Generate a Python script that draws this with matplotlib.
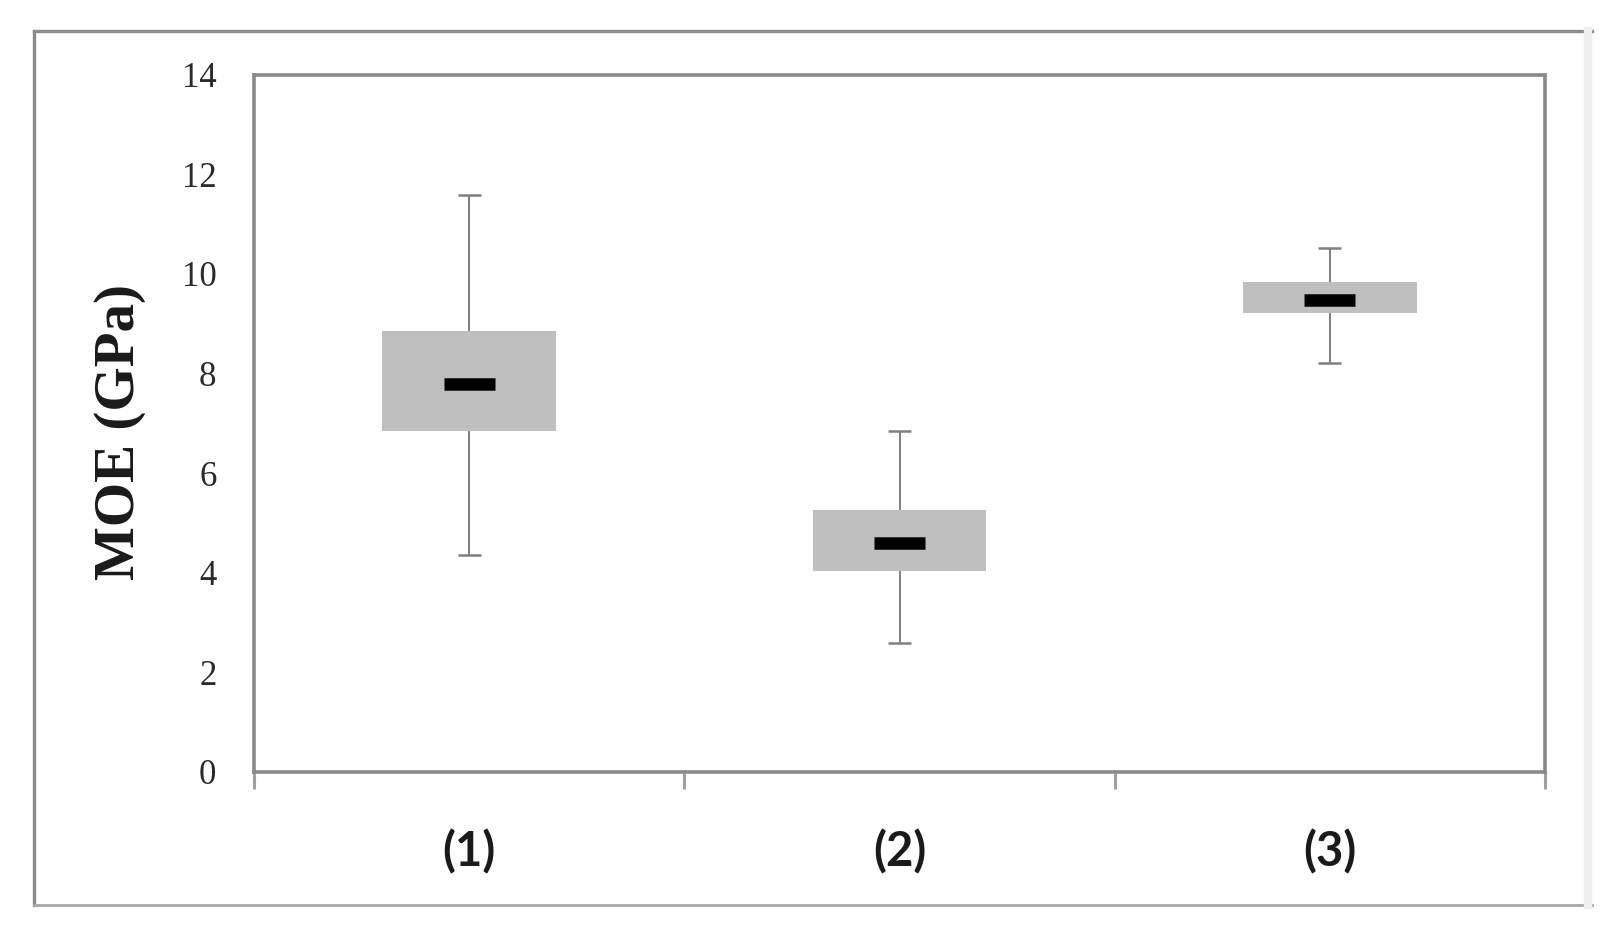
import numpy as np
import matplotlib.pyplot as plt
from matplotlib.lines import Line2D

# values (GPa)
groups = ["(1)", "(2)", "(3)"]
q1 = [6.85, 4.03, 9.22]
q3 = [8.85, 5.26, 9.83]
medians = [7.79, 4.59, 9.48]
whisker_low = [4.36, 2.58, 8.21]
whisker_high = [11.59, 6.85, 10.51]

yticks = [0, 2, 4, 6, 8, 10, 12, 14]

W, H = 1623, 939
fig = plt.figure(figsize=(W / 100, H / 100), dpi=100)

# outer chart frame (left/top dark, bottom lighter, right faint)
frame_l, frame_r, frame_t, frame_b = 34 / W, 1592 / W, 1 - 31 / H, 1 - 905 / H
fig.add_artist(Line2D([frame_l, frame_l], [frame_b, frame_t], color="#8c8c8c", lw=2.4))
fig.add_artist(Line2D([frame_l, frame_r], [frame_t, frame_t], color="#8c8c8c", lw=2.4))
fig.add_artist(Line2D([frame_l, frame_r], [frame_b, frame_b], color="#a8a8a8", lw=2.0))
fig.add_artist(Line2D([frame_r - 4 / W, frame_r - 4 / W], [frame_b, frame_t], color="#f0f0f0", lw=6))

ax = fig.add_axes([254 / W, 1 - 772 / H, (1545 - 254) / W, (772 - 74.5) / H])

pos = np.arange(len(groups))
box_w = 0.404
cap_w = 0.053
med_w = 0.118

ax.bar(pos, np.array(q3) - np.array(q1), bottom=q1, width=box_w,
       color="#bfbfbf", edgecolor="none", zorder=2)
ax.vlines(pos, whisker_low, q1, color="#7f7f7f", lw=1.4, zorder=1)
ax.vlines(pos, q3, whisker_high, color="#7f7f7f", lw=1.4, zorder=1)
ax.hlines(whisker_low, pos - cap_w / 2, pos + cap_w / 2, color="#7f7f7f", lw=1.8)
ax.hlines(whisker_high, pos - cap_w / 2, pos + cap_w / 2, color="#7f7f7f", lw=1.8)
ax.hlines(medians, pos - med_w / 2, pos + med_w / 2, color="black", lw=9, zorder=3)

ax.set_xlim(-0.5, len(groups) - 0.5)
ax.set_ylim(0, 14)
ax.set_yticks(yticks)
ax.set_yticklabels([str(v) for v in yticks], family="Liberation Serif",
                   fontsize=25, color="#2a2a2a")
ax.tick_params(axis="y", length=0, pad=27)

ax.set_xticks(pos)
ax.set_xticklabels(groups, family="Lato", fontweight="bold", fontsize=34, color="#1a1a1a")
ax.set_xticks(np.arange(-0.5, len(groups)), minor=True)
ax.tick_params(axis="x", which="major", length=0, pad=41)
ax.tick_params(axis="x", which="minor", length=12, width=2.2, color="#a0a0a0")

for side in ["left", "right", "top", "bottom"]:
    ax.spines[side].set_color("#8a8a8a")
    ax.spines[side].set_linewidth(2.6)

ax.set_ylabel("MOE (GPa)", family="Liberation Serif", fontweight="bold",
              fontsize=41, color="#1a1a1a")
ax.yaxis.set_label_coords(-0.084, 0.487)

fig.savefig("out.png", dpi=100)
